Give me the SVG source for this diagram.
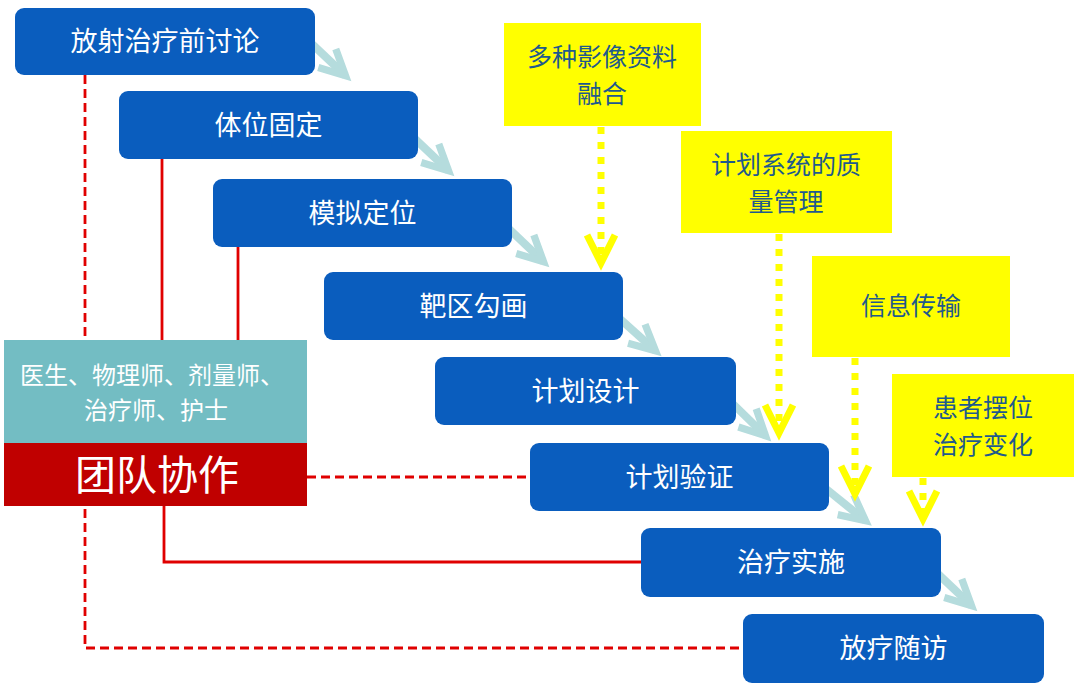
<svg xmlns="http://www.w3.org/2000/svg" width="1080" height="693" viewBox="0 0 1080 693">
<style>
.step{fill:#0A5DBE}
.stxt{font-family:"Noto Sans CJK SC",sans-serif;font-size:27px;fill:#FFFFFF;text-anchor:middle}
.ybox{fill:#FFFF00}
.ytxt{font-family:"Noto Sans CJK SC",sans-serif;font-size:25px;fill:#1F5A8C;text-anchor:middle}
.ttxt{font-family:"Noto Sans CJK SC",sans-serif;font-size:24px;fill:#FFFFFF;text-anchor:middle}
.red{fill:none;stroke:#E00000;stroke-width:2.8}
.redd{fill:none;stroke:#E00000;stroke-width:2.8;stroke-dasharray:9 5}
.flow{fill:none;stroke:#B5DCDD;stroke-width:8;marker-end:url(#lb)}
.ydot{fill:none;stroke:#FFFF00;stroke-width:7;stroke-dasharray:7 8}
.ychev{fill:none;stroke:#FFFF00;stroke-width:7;stroke-linejoin:miter}
</style>
<defs>
<marker id="lb" markerUnits="userSpaceOnUse" markerWidth="50" markerHeight="50" viewBox="-40 -25 55 50" refX="0" refY="0" orient="auto">
<path d="M-28,-14 L0,0 L-28,14" fill="none" stroke="#B5DCDD" stroke-width="8" stroke-linejoin="miter"/>
</marker>
</defs>
<rect width="1080" height="693" fill="#FFFFFF"/>
<g id="connectors">
<path class="redd" d="M85,75 V648 H743"/>
<path class="redd" d="M307,477 H530"/>
<path class="red" d="M162,159 V340"/>
<path class="red" d="M238,247 V340"/>
<path class="red" d="M164,506 V562 H641"/>
<path class="flow" d="M312,44 L345.5,75.7"/>
<path class="flow" d="M414,138 L448.5,170.7"/>
<path class="flow" d="M508,228 L543.5,261.7"/>
<path class="flow" d="M619,318 L655.5,350.7"/>
<path class="flow" d="M732,403 L765.5,435.7"/>
<path class="flow" d="M825,488 L865.5,520.7"/>
<path class="flow" d="M937,573 L971.5,605.7"/>
<path class="ydot" d="M601,127 V258"/>
<path class="ychev" d="M587,235 L601,263 L615,235"/>
<path class="ydot" d="M779,234 V428"/>
<path class="ychev" d="M765,405 L779,433 L793,405"/>
<path class="ydot" d="M855,358 V488"/>
<path class="ychev" d="M841,466 L855,494 L869,466"/>
<path class="ydot" d="M923,478 V512"/>
<path class="ychev" d="M909,491 L923,519 L937,491"/>
</g>
<g id="n1"><rect class="step" x="15" y="8" width="300" height="67" rx="9"/><text class="stxt" x="165" y="51">放射治疗前讨论</text></g>
<g id="n2"><rect class="step" x="119" y="91" width="299" height="68" rx="9"/><text class="stxt" x="268.5" y="135">体位固定</text></g>
<g id="n3"><rect class="step" x="213" y="179" width="299" height="68" rx="9"/><text class="stxt" x="362.5" y="223">模拟定位</text></g>
<g id="n4"><rect class="step" x="324" y="272" width="299" height="68" rx="9"/><text class="stxt" x="473.5" y="316">靶区勾画</text></g>
<g id="n5"><rect class="step" x="435" y="357" width="301" height="68" rx="9"/><text class="stxt" x="585.5" y="401">计划设计</text></g>
<g id="n6"><rect class="step" x="530" y="443" width="299" height="68" rx="9"/><text class="stxt" x="679.5" y="487">计划验证</text></g>
<g id="n7"><rect class="step" x="641" y="528" width="300" height="69" rx="9"/><text class="stxt" x="791" y="572">治疗实施</text></g>
<g id="n8"><rect class="step" x="743" y="614" width="301" height="69" rx="9"/><text class="stxt" x="893.5" y="658">放疗随访</text></g>
<g id="team">
<rect x="4" y="340" width="303" height="103" fill="#73BDC3"/>
<text class="ttxt" x="152" y="383.5">医生、物理师、剂量师、<tspan x="156" dy="35">治疗师、护士</tspan></text>
<rect x="4" y="443" width="303" height="63" fill="#C00000"/>
<text x="157" y="490" style="font-family:'Noto Sans CJK SC',sans-serif;font-size:41px;fill:#FFFFFF;text-anchor:middle">团队协作</text>
</g>
<g id="y1"><rect class="ybox" x="504" y="23" width="197" height="103"/><text class="ytxt" x="602" y="66">多种影像资料<tspan x="602" dy="36.5">融合</tspan></text></g>
<g id="y2"><rect class="ybox" x="681" y="131" width="211" height="102"/><text class="ytxt" x="786" y="174">计划系统的质<tspan x="786" dy="36.5">量管理</tspan></text></g>
<g id="y3"><rect class="ybox" x="812" y="256" width="198" height="101"/><text class="ytxt" x="911" y="315">信息传输</text></g>
<g id="y4"><rect class="ybox" x="892" y="374" width="182" height="103"/><text class="ytxt" x="983" y="417">患者摆位<tspan x="983" dy="36.5">治疗变化</tspan></text></g>
</svg>
